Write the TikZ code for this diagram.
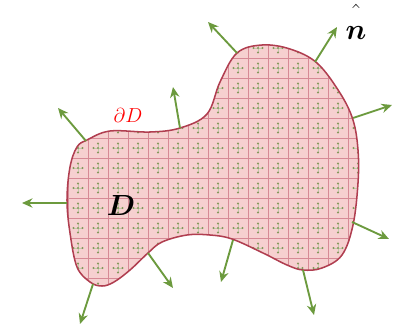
\documentclass[tikz,border=0pt]{standalone}
\usepackage{amsmath}
\usetikzlibrary{arrows.meta}

\definecolor{regionfill}{HTML}{F6D0D0}
\definecolor{gridred}{HTML}{D68A96}
\definecolor{edgered}{HTML}{B03E50}
\definecolor{arrowgreen}{HTML}{6C9A3E}
\definecolor{dotgreen}{HTML}{86985C}

\def\regionpath{plot[smooth cycle, tension=0.6] coordinates {
  (87,140) (110,131) (150,132) (180,128) (207,114) (220,82) (237,53)
  (262,45) (290,49) (317,63) (340,93) (353,120) (358,150)
  (358,183) (353,225) (342,255) (322,268) (303,270) (287,265) (263,253)
  (232,239) (210,235) (187,235) (162,242) (148,253) (130,270) (114,282)
  (102,286) (90,282) (77,267) (70,233) (67,200) (70,167) (77,147)}}

\begin{document}
\begin{tikzpicture}[x=0.03cm, y=-0.03cm, >=Stealth,
    normal/.style={-{Stealth[length=9pt, width=8pt]}, line width=1.6pt, arrowgreen},
    edge/.style={draw=edgered, line width=1.3pt},
    gridline/.style={gridred, line width=0.6pt}
  ]
  \useasboundingbox (0,0) rectangle (403,333);

  % the region D
  \fill[regionfill] \regionpath;
  \begin{scope}
    \clip \regionpath;
    \foreach \gx in {8,28,...,388}
      \draw[gridline] (\gx,0) -- (\gx,333);
    \foreach \gy in {18,38,...,318}
      \draw[gridline] (0,\gy) -- (403,\gy);
    \foreach \cx in {18,38,...,378}
      \foreach \cy in {28,48,...,308} {
        \draw[dotgreen!50, line width=0.4pt] (\cx-5,\cy) -- (\cx+5,\cy) (\cx,\cy-5) -- (\cx,\cy+5);
        \fill[dotgreen] (\cx,\cy) circle (1.1)
          (\cx-4.5,\cy) circle (1.1) (\cx+4.5,\cy) circle (1.1)
          (\cx,\cy-4.5) circle (1.1) (\cx,\cy+4.5) circle (1.1);
      }
  \end{scope}
  \draw[edge] \regionpath;

  % boundary points and arrow tips
  \coordinate (b1) at (86,141);   \coordinate (t1) at (58,108);
  \coordinate (b2) at (180,128);  \coordinate (t2) at (173,87);
  \coordinate (b3) at (237,53);   \coordinate (t3) at (208,22);
  \coordinate (b4) at (315,62);   \coordinate (t4) at (337,27);
  \coordinate (b5) at (353,118);  \coordinate (t5) at (392,105);
  \coordinate (b6) at (352,222);  \coordinate (t6) at (389,239);
  \coordinate (b7) at (303,270);  \coordinate (t7) at (314,315);
  \coordinate (b8) at (233,240);  \coordinate (t8) at (221,282);
  \coordinate (b9) at (148,253);  \coordinate (t9) at (173,288);
  \coordinate (b10) at (93,284);  \coordinate (t10) at (80,324);
  \coordinate (b11) at (67,203);  \coordinate (t11) at (22,203);

  \foreach \k in {1,...,11}
    \draw[normal] (b\k) -- (t\k);

  % labels
  \node[text=red, font=\fontsize{16}{18}\selectfont] (bdlabel) at (128,115) {$\partial D$};
  \node[font=\fontsize{24.88}{28}\selectfont] (domlabel) at (121,205) {$\boldsymbol{D}$};
  \node[font=\fontsize{24.88}{28}\selectfont, inner sep=1pt] (nlabel) at (356,22)
    {$\hat{\vphantom{\rule{0pt}{0.95em}}\boldsymbol{n}}$};
\end{tikzpicture}
\end{document}
